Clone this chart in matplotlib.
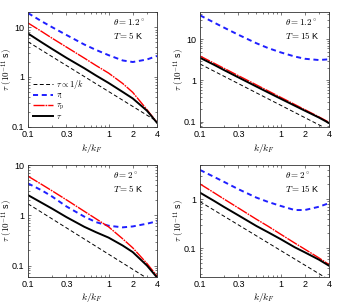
import matplotlib
matplotlib.use('Agg')
import matplotlib.pyplot as plt
from matplotlib.ticker import FixedLocator, FixedFormatter, LogLocator, NullFormatter

plt.rcParams['font.family'] = ['Liberation Sans', 'DejaVu Sans']
plt.rcParams['mathtext.fontset'] = 'cm'

# k/k_F sample points
k = [0.1, 0.15, 0.2, 0.3, 0.5, 0.7, 1, 1.5, 2, 3, 4]
k_ref = [0.1, 4]

# theta = 1.2 deg, T = 5 K
tau_l_a = [19.3, 13.0, 10.0, 7.0, 4.5, 3.5, 2.75, 2.15, 2.0, 2.25, 2.65]
tau_p_a = [12.2, 8.1, 6.0, 4.0, 2.4, 1.7, 1.2, 0.74, 0.49, 0.22, 0.122]
tau_a = [7.5, 4.9, 3.65, 2.43, 1.5, 1.07, 0.76, 0.5, 0.37, 0.21, 0.12]
ref_a = [5.1, 0.128]

# theta = 1.2 deg, T = 15 K
tau_l_b = [38, 25.3, 19, 12.8, 8.0, 6.1, 4.8, 3.8, 3.35, 3.12, 3.25]
tau_p_b = [3.9, 2.6, 1.95, 1.3, 0.78, 0.557, 0.39, 0.26, 0.195, 0.13, 0.096]
tau_b = [3.54, 2.38, 1.77, 1.18, 0.71, 0.51, 0.36, 0.243, 0.184, 0.125, 0.092]
ref_b = [2.5, 0.0625]

# theta = 2 deg, T = 5 K
tau_l_c = [4.3, 3.1, 2.35, 1.5, 0.94, 0.73, 0.62, 0.575, 0.6, 0.68, 0.76]
tau_p_c = [6.0, 4.05, 3.05, 2.03, 1.2, 0.85, 0.59, 0.34, 0.225, 0.11, 0.062]
tau_c = [2.52, 1.75, 1.35, 0.92, 0.59, 0.46, 0.36, 0.25, 0.185, 0.1, 0.058]
ref_c = [1.69, 0.042]

# theta = 2 deg, T = 15 K
tau_l_d = [3.96, 2.85, 2.25, 1.6, 1.08, 0.88, 0.73, 0.6, 0.6, 0.7, 0.83]
tau_p_d = [2.05, 1.35, 1.0, 0.66, 0.39, 0.28, 0.193, 0.127, 0.095, 0.063, 0.046]
tau_d = [1.36, 0.92, 0.69, 0.467, 0.284, 0.211, 0.153, 0.104, 0.082, 0.058, 0.0436]
ref_d = [0.89, 0.0225]

panels = [
    (tau_l_a, tau_p_a, tau_a, ref_a, r'$\theta = 1.2^\circ$', r'$T = 5$ K', (0.1, 20), [0.1, 1, 10]),
    (tau_l_b, tau_p_b, tau_b, ref_b, r'$\theta = 1.2^\circ$', r'$T = 15$ K', (0.075, 45), [0.1, 1, 10]),
    (tau_l_c, tau_p_c, tau_c, ref_c, r'$\theta = 2^\circ$', r'$T = 5$ K', (0.06, 10), [0.1, 1, 10]),
    (tau_l_d, tau_p_d, tau_d, ref_d, r'$\theta = 2^\circ$', r'$T = 15$ K', (0.026, 5), [0.1, 1]),
]
positions = [
    [0.0814, 0.5873, 0.375, 0.3726],
    [0.5814, 0.5873, 0.375, 0.3726],
    [0.0814, 0.0987, 0.375, 0.3638],
    [0.5814, 0.0987, 0.375, 0.3638],
]

fig = plt.figure(figsize=(3.44, 3.07), dpi=100)

for i, (tl, tp, t, ref, lab1, lab2, ylim, yt) in enumerate(panels):
    ax = fig.add_axes(positions[i])
    ax.plot(k_ref, ref, color='black', ls='--', lw=0.7, dashes=(4, 2.5), label=r'$\tau \propto 1/k$')
    ax.plot(k, tl, color='#1f1fff', ls='--', lw=1.4, dashes=(2.6, 1.9), label=r'$\tau_{\rm l}$')
    ax.plot(k, tp, color='red', lw=1.0, ls=(0, (8, 0.7, 1.2, 0.7)), label=r'$\tau_{\rm p}$')
    ax.plot(k, t, color='black', lw=1.4, label=r'$\tau$')
    ax.set_xscale('log')
    ax.set_yscale('log')
    ax.set_xlim(0.1, 4)
    ax.set_ylim(*ylim)
    ax.xaxis.set_major_locator(FixedLocator([0.1, 0.3, 1, 2, 4]))
    ax.xaxis.set_major_formatter(FixedFormatter(['0.1', '0.3', '1', '2', '4']))
    ax.xaxis.set_minor_locator(LogLocator(base=10, subs='all'))
    ax.xaxis.set_minor_formatter(NullFormatter())
    ax.yaxis.set_major_locator(FixedLocator(yt))
    ax.yaxis.set_major_formatter(FixedFormatter([('%g' % v) for v in yt]))
    ax.yaxis.set_minor_locator(LogLocator(base=10, subs='all'))
    ax.yaxis.set_minor_formatter(NullFormatter())
    ax.tick_params(which='both', direction='in', top=True, right=True,
                   labelsize=6.5, pad=2.5, width=0.5, color='#444444')
    ax.tick_params(which='major', length=2.5)
    ax.tick_params(which='minor', length=1.3)
    for s in ax.spines.values():
        s.set_linewidth(0.6)
        s.set_color('#333333')
    ax.set_xlabel(r'$k/k_F$', fontsize=7)
    ax.xaxis.set_label_coords(0.5, -0.13)
    ax.set_ylabel(r'$\tau\ (10^{-11}$ s$)$', fontsize=6.5, va='center')
    ax.yaxis.set_label_coords(-0.16, 0.5)
    ax.text(0.66, 0.95, lab1 + '\n' + lab2, transform=ax.transAxes,
            ha='left', va='top', fontsize=6.5, linespacing=1.2)
    if i == 0:
        ax.legend(loc='lower left', fontsize=6, frameon=False, handlelength=2.4,
                  handletextpad=0.3, labelspacing=0.12, borderaxespad=0.25)

fig.savefig('out.png', dpi=100)
